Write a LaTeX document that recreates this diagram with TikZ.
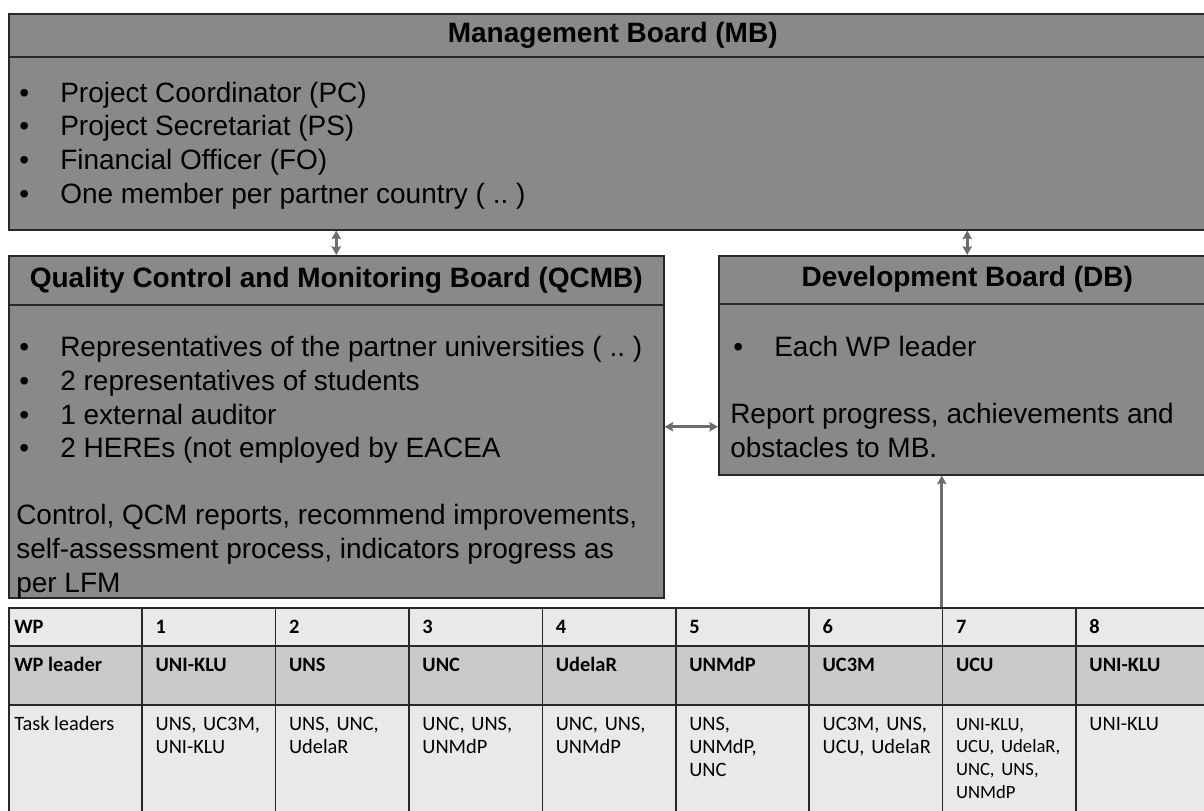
\documentclass[tikz,border=0pt]{standalone}
\usepackage{fontspec}
\setmainfont{Liberation Sans}
\newfontfamily\tablefont{Carlito}
\usetikzlibrary{arrows.meta,calc}
\frenchspacing

\definecolor{boardgray}{RGB}{137,137,137}
\definecolor{edgedark}{RGB}{40,40,40}
\definecolor{linkgray}{RGB}{108,108,108}
\definecolor{rowlight}{RGB}{233,233,233}
\definecolor{rowmid}{RGB}{202,202,202}

% one screen pixel
\newdimen\pxu \pxu=0.75pt
\newcommand{\bul}{\makebox[44\pxu][l]{\hspace{3\pxu}\textbullet}}
\newcommand{\tabsize}{\fontsize{15.3}{17.6}\selectfont}

\tikzset{
  board/.style={draw=edgedark, line width=1.5\pxu, fill=boardgray, anchor=north west, inner sep=0pt},
  boardhead/.style={board, font=\fontsize{21}{25}\selectfont\bfseries},
  % placed at the baseline of the last line
  boardtext/.style={anchor=base west, align=left, inner sep=0pt, font=\fontsize{21}{25.2}\selectfont},
  cell/.style={draw=edgedark, line width=1.5\pxu, anchor=north west, inner sep=0pt, minimum width=133.4\pxu},
  celltext/.style={anchor=base west, align=left, inner sep=0pt, font=\tablefont\tabsize},
  link/.style={draw=linkgray, line width=3\pxu, >={Stealth[length=6.5pt,width=7pt,inset=1pt]}}
}

\begin{document}
\begin{tikzpicture}[x=0.75pt, y=-0.75pt]
	\useasboundingbox (0,0) rectangle (1204,811);
	\clip (0,0) rectangle (1204,811);

	% boards
	\node[board, minimum width=1208\pxu, minimum height=216\pxu] (mb) at (8,13) {};
	\node[boardhead, minimum width=1208\pxu, minimum height=43\pxu] (mbhead) at (8,13) {Management Board (MB)};
	\node[boardtext] (mblist) at (16,203) {\bul Project Coordinator (PC)\\\bul Project Secretariat (PS)\\\bul Financial Officer (FO)\\\bul One member per partner country ( .. )};

	\node[board, minimum width=655\pxu, minimum height=342\pxu] (qcmb) at (8,255) {};
	\node[boardhead, minimum width=655\pxu, minimum height=49\pxu] (qcmbhead) at (8,255) {Quality Control and Monitoring Board (QCMB)};
	\node[boardtext] (qcmblist) at (16,592) {\bul Representatives of the partner universities ( .. )\\\bul 2 representatives of students\\\bul 1 external auditor\\\bul 2 HEREs (not employed by EACEA\\[25.2pt]Control, QCM reports, recommend improvements,\\self-assessment process, indicators progress as\\per LFM};

	\node[board, minimum width=497\pxu, minimum height=219\pxu] (db) at (718,255) {};
	\node[boardhead, minimum width=497\pxu, minimum height=48\pxu] (dbhead) at (718,255) {Development Board (DB)};
	\node[boardtext] (dblist) at (730,457) {\bul Each WP leader\\[25.2pt]Report progress, achievements and\\obstacles to MB.};

	% work package table
	\node[cell, fill=rowlight, minimum height=38\pxu] (wphead) at (8,607) {};
	\node[cell, fill=rowmid, minimum height=59\pxu] (leadhead) at (8,645) {};
	\node[cell, fill=rowlight, minimum height=120\pxu] (taskhead) at (8,704) {};
	\node[celltext] at ($(wphead.north west)+(6,26)$) {\bfseries WP};
	\node[celltext] at ($(leadhead.north west)+(6,26)$) {\bfseries WP leader};
	\node[celltext] at ($(taskhead.north west)+(6,26)$) {Task leaders};
	\foreach \wp/\lead/\tasks [count=\c] in {
		1/UNI-KLU/{UNS, UC3M,\\UNI-KLU},
		2/UNS/{UNS, UNC,\\UdelaR},
		3/UNC/{UNC, UNS,\\UNMdP},
		4/UdelaR/{UNC, UNS,\\UNMdP},
		5/UNMdP/{UNS,\\UNMdP,\\UNC},
		6/UC3M/{UC3M, UNS,\\UCU, UdelaR},
		7/UCU/{\fontsize{14}{17}\selectfont UNI-KLU,\\UCU, UdelaR,\\UNC, UNS,\\UNMdP},
		8/UNI-KLU/{UNI-KLU}}{
		\node[cell, fill=rowlight, minimum height=38\pxu] (wp\c) at (8+133.4*\c,607) {};
		\node[cell, fill=rowmid, minimum height=59\pxu] (lead\c) at (8+133.4*\c,645) {};
		\node[cell, fill=rowlight, minimum height=120\pxu] (task\c) at (8+133.4*\c,704) {};
		\node[celltext] at ($(wp\c.north west)+(14,26)$) {\bfseries\wp};
		\node[celltext] at ($(lead\c.north west)+(14,26)$) {\bfseries\lead};
		\node[celltext, text width=115\pxu] at ($(task\c.north west)+(14,26)$) {\tasks};
	}

	% links between boards
	\draw[link, <->] (qcmb.north) -- (qcmb.north |- mb.south);
	\draw[link, <->] (db.north) -- (db.north |- mb.south);
	\draw[link, <->] (qcmb.east) -- (db.west |- qcmb.east);
	\draw[link, ->] (wp7.north west) -- (wp7.north west |- db.south);
\end{tikzpicture}
\end{document}
